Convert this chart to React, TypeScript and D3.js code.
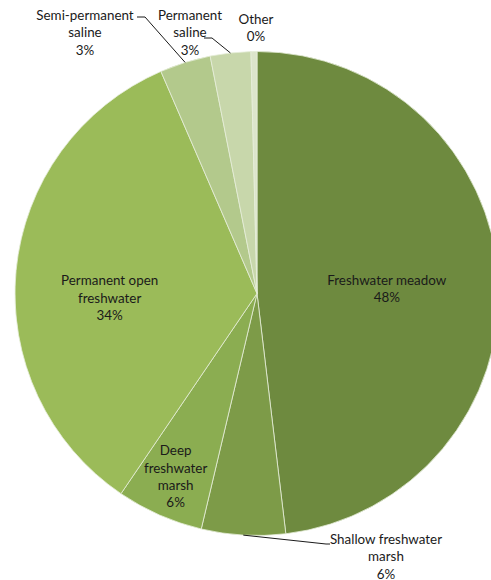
import React from "react";
import * as d3 from "d3";

const categories = [
  "Freshwater meadow",
  "Shallow freshwater marsh",
  "Deep freshwater marsh",
  "Permanent open freshwater",
  "Semi-permanent saline",
  "Permanent saline",
  "Other",
];
const values = [48.1, 5.6, 5.8, 34.0, 3.4, 2.7, 0.4];
const labelLines = [
  ["Freshwater meadow", "48%"],
  ["Shallow freshwater", "marsh", "6%"],
  ["Deep", "freshwater", "marsh", "6%"],
  ["Permanent open", "freshwater", "34%"],
  ["Semi-permanent", "saline", "3%"],
  ["Permanent", "saline", "3%"],
  ["Other", "0%"],
];
const colors = ["#6E8A3F", "#7D9B48", "#8BAD51", "#9BBB59", "#B3C98C", "#C8D7AB", "#DCE5CB"];

const W = 491;
const H = 580;
const cx = 257;
const cy = 293.5;
const R = 242;
const FONT = "Lato, 'Open Sans', sans-serif";
const FS = 13.4;
const LH = 17.3;

type Place =
  | { kind: "in"; r: number; dy: number }
  | { kind: "out"; tx: number; ty: number; elbow: [number, number]; side: "left" | "right"; noLine?: boolean };

const places: Place[] = [
  { kind: "in", r: 130, dy: 5 },
  { kind: "out", tx: 386, ty: 545, elbow: [326, 544], side: "right" },
  { kind: "in", r: 202, dy: 0 },
  { kind: "in", r: 148, dy: 20 },
  { kind: "out", tx: 85, ty: 21, elbow: [145, 17], side: "left" },
  { kind: "out", tx: 190, ty: 21, elbow: [212, 38], side: "left" },
  { kind: "out", tx: 256, ty: 25, elbow: [0, 0], side: "left", noLine: true },
];

export default function App() {
  const pie = d3
    .pie<number>()
    .sort(null)
    .value((d) => d)
    .startAngle(0)
    .endAngle(2 * Math.PI);
  const arcs = pie(values);
  const arcGen = d3.arc<d3.PieArcDatum<number>>().innerRadius(0).outerRadius(R);

  return (
    <svg width={W} height={H} style={{ position: "absolute", left: 0, top: 0, background: "#fff" }}>
      <g transform={`translate(${cx},${cy})`}>
        {arcs.map((a, i) => (
          <path key={categories[i]} d={arcGen(a) || ""} fill={colors[i]} stroke="#E6EDD9" strokeWidth={0.8} />
        ))}
      </g>
      {arcs.map((a, i) => {
        const p = places[i];
        const mid = (a.startAngle + a.endAngle) / 2;
        const lines = labelLines[i];
        if (p.kind === "in") {
          const x = cx + p.r * Math.sin(mid);
          const y = cy - p.r * Math.cos(mid) + p.dy;
          const y0 = y - ((lines.length - 1) * LH) / 2;
          return (
            <text key={i} x={x} y={y0} textAnchor="middle" fontFamily={FONT} fontSize={FS} fill="#1a1a1a" dominantBaseline="middle">
              {lines.map((l, k) => (
                <tspan key={k} x={x} y={y0 + k * LH}>
                  {l}
                </tspan>
              ))}
            </text>
          );
        }
        const ex = cx + R * Math.sin(mid);
        const ey = cy - R * Math.cos(mid);
        const [bx, by] = p.elbow;
        const hx = p.side === "left" ? bx - 8 : bx + 4;
        return (
          <g key={i}>
            {!p.noLine && (
              <polyline
                points={`${ex},${ey} ${bx},${by} ${hx},${by}`}
                fill="none"
                stroke="#000"
                strokeWidth={0.9}
              />
            )}
            <text x={p.tx} y={p.ty} textAnchor="middle" fontFamily={FONT} fontSize={FS} fill="#1a1a1a" dominantBaseline="middle">
              {lines.map((l, k) => (
                <tspan key={k} x={p.tx} y={p.ty - 4 + k * LH}>
                  {l}
                </tspan>
              ))}
            </text>
          </g>
        );
      })}
    </svg>
  );
}
